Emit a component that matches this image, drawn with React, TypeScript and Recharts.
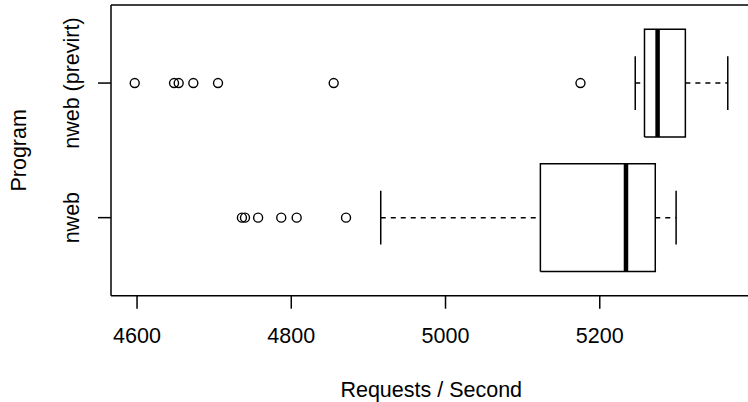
import { ScatterChart, Scatter, XAxis, YAxis, ReferenceLine, Label } from "recharts";

// Box statistics per program
const programs = ["nweb", "nweb (previrt)"];
const whiskerLow = [4916, 5246];
const lowerQuartile = [5123, 5258];
const medians = [5234, 5275];
const upperQuartile = [5272, 5311];
const whiskerHigh = [5299, 5366];
const outliersNweb = [4736, 4740, 4757, 4787, 4807, 4871];
const outliersPrevirt = [4597, 4648, 4654, 4673, 4705, 4855, 5175];
const xTicks = [4600, 4800, 5000, 5200];

const FONT = "'Liberation Sans', Arial, Helvetica, sans-serif";
const FS = 21.5;

// R style axis range: data range extended by 4% on both sides
const allValues = [...whiskerLow, ...whiskerHigh, ...outliersNweb, ...outliersPrevirt];
const lo = Math.min(...allValues);
const hi = Math.max(...allValues);
const xDomain: [number, number] = [lo - 0.04 * (hi - lo), hi + 0.04 * (hi - lo)];
const yDomain: [number, number] = [0.42, 2.58];

const outliers = [outliersNweb, outliersPrevirt];

const BOX = 0.4;
const CAP = 0.2;

function Nothing() {
  return <g />;
}

function Ring(props: any) {
  return <circle cx={props.cx} cy={props.cy} r={4.5} fill="none" stroke="#000" strokeWidth={1.4} />;
}

function ProgramTick({ x, y, payload }: any) {
  const name = programs[payload.value - 1];
  return (
    <text x={x} y={y} transform={`rotate(-90, ${x}, ${y})`} textAnchor="middle" fontFamily={FONT} fontSize={FS} fill="#000">
      {name}
    </text>
  );
}

// y title, rotated, centred on the plot height
function ProgramTitle({ viewBox }: any) {
  const x = viewBox.x + 25.6;
  const y = viewBox.y + viewBox.height / 2;
  return (
    <text x={x} y={y} transform={`rotate(-90, ${x}, ${y})`} textAnchor="middle" fontFamily={FONT} fontSize={FS} fill="#000">
      Program
    </text>
  );
}

export default function App() {
  const segments: { key: string; data: { x: number; y: number }[]; dashed?: boolean; width?: number }[] = [];
  programs.forEach((_, i) => {
    const g = i + 1;
    segments.push({
      key: `box${i}`,
      data: [
        { x: lowerQuartile[i], y: g - BOX },
        { x: upperQuartile[i], y: g - BOX },
        { x: upperQuartile[i], y: g + BOX },
        { x: lowerQuartile[i], y: g + BOX },
        { x: lowerQuartile[i], y: g - BOX },
      ],
    });
    segments.push({ key: `wl${i}`, dashed: true, data: [{ x: whiskerLow[i], y: g }, { x: lowerQuartile[i], y: g }] });
    segments.push({ key: `wh${i}`, dashed: true, data: [{ x: upperQuartile[i], y: g }, { x: whiskerHigh[i], y: g }] });
    segments.push({ key: `cl${i}`, data: [{ x: whiskerLow[i], y: g - CAP }, { x: whiskerLow[i], y: g + CAP }] });
    segments.push({ key: `ch${i}`, data: [{ x: whiskerHigh[i], y: g - CAP }, { x: whiskerHigh[i], y: g + CAP }] });
    segments.push({ key: `med${i}`, width: 4.5, data: [{ x: medians[i], y: g - BOX }, { x: medians[i], y: g + BOX }] });
  });

  return (
    <div style={{ position: "absolute", left: 0, top: 0, width: 748, height: 402, overflow: "hidden", background: "#fff" }}>
      <ScatterChart width={760} height={402} margin={{ top: 5, right: 8.5, bottom: 0, left: 0 }}>
        <XAxis
          type="number"
          dataKey="x"
          domain={xDomain}
          allowDataOverflow
          ticks={xTicks}
          height={106.3}
          tickSize={13}
          tickMargin={19}
          axisLine={{ stroke: "#000", strokeWidth: 1.5 }}
          tickLine={{ stroke: "#000", strokeWidth: 1.5 }}
          tick={{ fill: "#000", fontSize: FS, fontFamily: FONT }}
          label={{ value: "Requests / Second", position: "insideBottom", offset: 5, fill: "#000", fontSize: FS, fontFamily: FONT }}
        />
        <YAxis
          type="number"
          dataKey="y"
          domain={yDomain}
          allowDataOverflow
          ticks={[1, 2]}
          width={111}
          tickSize={13}
          tickMargin={19}
          axisLine={{ stroke: "#000", strokeWidth: 1.5 }}
          tickLine={{ stroke: "#000", strokeWidth: 1.5 }}
          tick={<ProgramTick />}
        >
          <Label content={<ProgramTitle />} />
        </YAxis>
        <ReferenceLine y={yDomain[1]} stroke="#000" strokeWidth={1.5} />
        <ReferenceLine x={xDomain[1]} stroke="#000" strokeWidth={1.5} />
        {segments.map((s) => (
          <Scatter
            key={s.key}
            data={s.data}
            shape={<Nothing />}
            line={{ stroke: "#000", strokeWidth: s.width ?? 1.5, strokeDasharray: s.dashed ? "5 5" : undefined }}
            isAnimationActive={false}
          />
        ))}
        {outliers.map((pts, i) => (
          <Scatter
            key={`out${i}`}
            data={pts.map((v) => ({ x: v, y: i + 1 }))}
            shape={<Ring />}
            isAnimationActive={false}
          />
        ))}
      </ScatterChart>
    </div>
  );
}
